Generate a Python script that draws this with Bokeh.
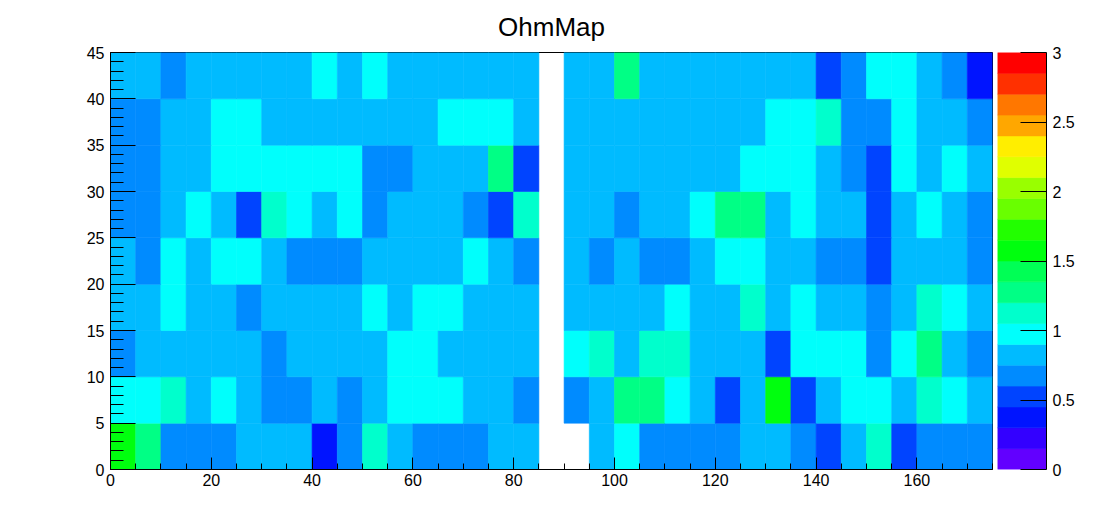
from bokeh.plotting import figure
from bokeh.models import FixedTicker, Range1d, CustomJSTickFormatter
from bokeh.layouts import row
from bokeh.transform import linear_cmap
from bokeh.embed import file_html
from bokeh.resources import INLINE

title_text = "OhmMap"

# bin edges (35 x-bins of width 5, 9 y-bins of width 5)
x_edges = list(range(0, 180, 5))
y_edges = list(range(0, 50, 5))

# cell values, one list per y-bin (None = empty bin)
row_y00 = [1.57, 1.27, 0.67, 0.67, 0.67, 0.82, 0.82, 0.82, 0.37, 0.67, 1.12, 0.82, 0.67, 0.67, 0.67, 0.82, 0.82, None,
           None, 0.82, 0.97, 0.67, 0.67, 0.67, 0.67, 0.82, 0.82, 0.67, 0.52, 0.82, 1.12, 0.52, 0.67, 0.67, 0.67]
row_y05 = [0.97, 0.97, 1.12, 0.82, 0.97, 0.82, 0.67, 0.67, 0.82, 0.67, 0.82, 0.97, 0.97, 0.97, 0.82, 0.82, 0.67, None,
           0.67, 0.82, 1.27, 1.27, 0.97, 0.82, 0.52, 0.82, 1.57, 0.52, 0.82, 0.97, 0.97, 0.82, 1.12, 0.97, 0.82]
row_y10 = [0.67, 0.82, 0.82, 0.82, 0.82, 0.82, 0.67, 0.82, 0.82, 0.82, 0.82, 0.97, 0.97, 0.82, 0.82, 0.82, 0.82, None,
           0.97, 1.12, 0.82, 1.12, 1.12, 0.82, 0.82, 0.82, 0.52, 0.97, 0.97, 0.97, 0.67, 0.97, 1.27, 0.82, 0.67]
row_y15 = [0.82, 0.82, 0.97, 0.82, 0.82, 0.67, 0.82, 0.82, 0.82, 0.82, 0.97, 0.82, 0.97, 0.97, 0.82, 0.82, 0.82, None,
           0.82, 0.82, 0.82, 0.82, 0.97, 0.82, 0.82, 1.12, 0.82, 0.97, 0.82, 0.82, 0.67, 0.82, 1.12, 0.97, 0.82]
row_y20 = [0.82, 0.67, 0.97, 0.82, 0.97, 0.97, 0.82, 0.67, 0.67, 0.67, 0.82, 0.82, 0.82, 0.82, 0.97, 0.82, 0.67, None,
           0.82, 0.67, 0.82, 0.67, 0.67, 0.82, 0.97, 0.97, 0.82, 0.82, 0.67, 0.67, 0.52, 0.82, 0.82, 0.82, 0.67]
row_y25 = [0.67, 0.67, 0.82, 0.97, 0.82, 0.52, 1.12, 0.97, 0.82, 0.97, 0.67, 0.82, 0.82, 0.82, 0.67, 0.52, 1.12, None,
           0.82, 0.82, 0.67, 0.82, 0.82, 0.97, 1.27, 1.27, 0.82, 0.97, 0.82, 0.82, 0.52, 0.82, 0.97, 0.82, 0.67]
row_y30 = [0.67, 0.67, 0.82, 0.82, 0.97, 0.97, 0.97, 0.97, 0.97, 0.97, 0.67, 0.67, 0.82, 0.82, 0.82, 1.27, 0.52, None,
           0.82, 0.82, 0.82, 0.82, 0.82, 0.82, 0.82, 0.97, 0.97, 0.97, 0.82, 0.67, 0.52, 0.97, 0.82, 0.97, 0.82]
row_y35 = [0.67, 0.67, 0.82, 0.82, 0.97, 0.97, 0.82, 0.82, 0.82, 0.82, 0.82, 0.82, 0.82, 0.97, 0.97, 0.97, 0.82, None,
           0.82, 0.82, 0.82, 0.82, 0.82, 0.82, 0.82, 0.82, 0.97, 0.97, 1.12, 0.67, 0.67, 0.97, 0.82, 0.82, 0.67]
row_y40 = [0.82, 0.82, 0.67, 0.82, 0.82, 0.82, 0.82, 0.82, 0.97, 0.82, 0.97, 0.82, 0.82, 0.82, 0.82, 0.82, 0.82, None,
           0.82, 0.82, 1.27, 0.82, 0.82, 0.82, 0.82, 0.82, 0.82, 0.82, 0.52, 0.67, 0.97, 0.97, 0.82, 0.67, 0.37]

# z scale (ROOT rainbow palette, 20 contour levels from 0 to 3)
z_low, z_high = 0.0, 3.0
palette = ["#6200FF", "#3300FF", "#0014FF", "#0044FF", "#008BFF", "#00BBFF", "#00FFFC", "#00FFCC",
           "#00FF85", "#00FF55", "#00FF0E", "#22FF00", "#69FF00", "#99FF00", "#E0FF00", "#FFEE00",
           "#FFA700", "#FF7700", "#FF3000", "#FF0000"]

x_major_ticks = [0, 20, 40, 60, 80, 100, 120, 140, 160]
x_minor_ticks = list(range(0, 180, 5))
y_major_ticks = [0, 5, 10, 15, 20, 25, 30, 35, 40, 45]
y_minor_ticks = list(range(0, 46, 1))
z_ticks = [0, 0.5, 1, 1.5, 2, 2.5, 3]

FONT = "Liberation Sans"

rows = [row_y00, row_y05, row_y10, row_y15, row_y20, row_y25, row_y30, row_y35, row_y40]
left, right, bottom, top, val = [], [], [], [], []
for j, r in enumerate(rows):
    for i, v in enumerate(r):
        if v is None:
            continue
        left.append(x_edges[i]); right.append(x_edges[i + 1])
        bottom.append(y_edges[j]); top.append(y_edges[j + 1])
        val.append(v)

p = figure(x_range=Range1d(x_edges[0], x_edges[-1]), y_range=Range1d(y_edges[0], y_edges[-1]),
           frame_width=882, frame_height=417,
           min_border_left=110, min_border_right=5, min_border_top=52, min_border_bottom=40,
           output_backend="svg", toolbar_location=None, title=title_text)
p.title.align = "center"
p.title.vertical_align = "top"
p.title.text_font = FONT
p.title.text_font_size = "26px"
p.title.text_font_style = "normal"
p.title.text_color = "black"
p.title.standoff = 18

cmap = linear_cmap("val", palette, z_low, z_high)
p.quad(left="left", right="right", bottom="bottom", top="top",
       source=dict(left=left, right=right, bottom=bottom, top=top, val=val),
       fill_color=cmap, line_color=cmap, line_width=0.6)

p.grid.visible = False
p.outline_line_color = "black"
p.outline_line_alpha = 1.0
p.background_fill_color = "white"
p.border_fill_color = "white"

p.xaxis.ticker = FixedTicker(ticks=x_major_ticks, minor_ticks=x_minor_ticks)
p.yaxis.ticker = FixedTicker(ticks=y_major_ticks, minor_ticks=y_minor_ticks)
for ax, mj, mn in ((p.xaxis, 12, 6), (p.yaxis, 25, 13)):
    ax.major_tick_in = mj
    ax.major_tick_out = 0
    ax.minor_tick_in = mn
    ax.minor_tick_out = 0
    ax.axis_line_color = "black"
    ax.major_tick_line_color = "black"
    ax.minor_tick_line_color = "black"
    ax.major_label_text_font = FONT
    ax.major_label_text_font_size = "16px"
    ax.major_label_text_color = "black"
p.xaxis.major_label_standoff = 4
p.yaxis.major_label_standoff = 6

# colour palette axis
cb = figure(x_range=Range1d(0, 1), y_range=Range1d(z_low, z_high),
            frame_width=49, frame_height=417,
            min_border_left=0, min_border_right=40, min_border_top=52, min_border_bottom=40,
            output_backend="svg", toolbar_location=None,
            x_axis_location=None, y_axis_location="right")
step = (z_high - z_low) / len(palette)
cb.quad(left=0, right=1,
        bottom=[z_low + k * step for k in range(len(palette))],
        top=[z_low + (k + 1) * step for k in range(len(palette))],
        fill_color=palette, line_color=palette, line_width=0.6)
cb.grid.visible = False
cb.outline_line_color = None
cb.border_fill_color = "white"
cb.yaxis.ticker = FixedTicker(ticks=z_ticks, minor_ticks=[])
cb.yaxis.formatter = CustomJSTickFormatter(code="return String(tick);")
cb.yaxis.major_tick_in = 26
cb.yaxis.major_tick_out = 0
cb.yaxis.minor_tick_in = 0
cb.yaxis.minor_tick_out = 0
cb.yaxis.axis_line_color = "black"
cb.yaxis.major_tick_line_color = "black"
cb.yaxis.major_label_text_font = FONT
cb.yaxis.major_label_text_font_size = "16px"
cb.yaxis.major_label_text_color = "black"
cb.yaxis.major_label_standoff = 6

layout = row(p, cb)
open("out.html", "w").write(file_html(layout, INLINE))
